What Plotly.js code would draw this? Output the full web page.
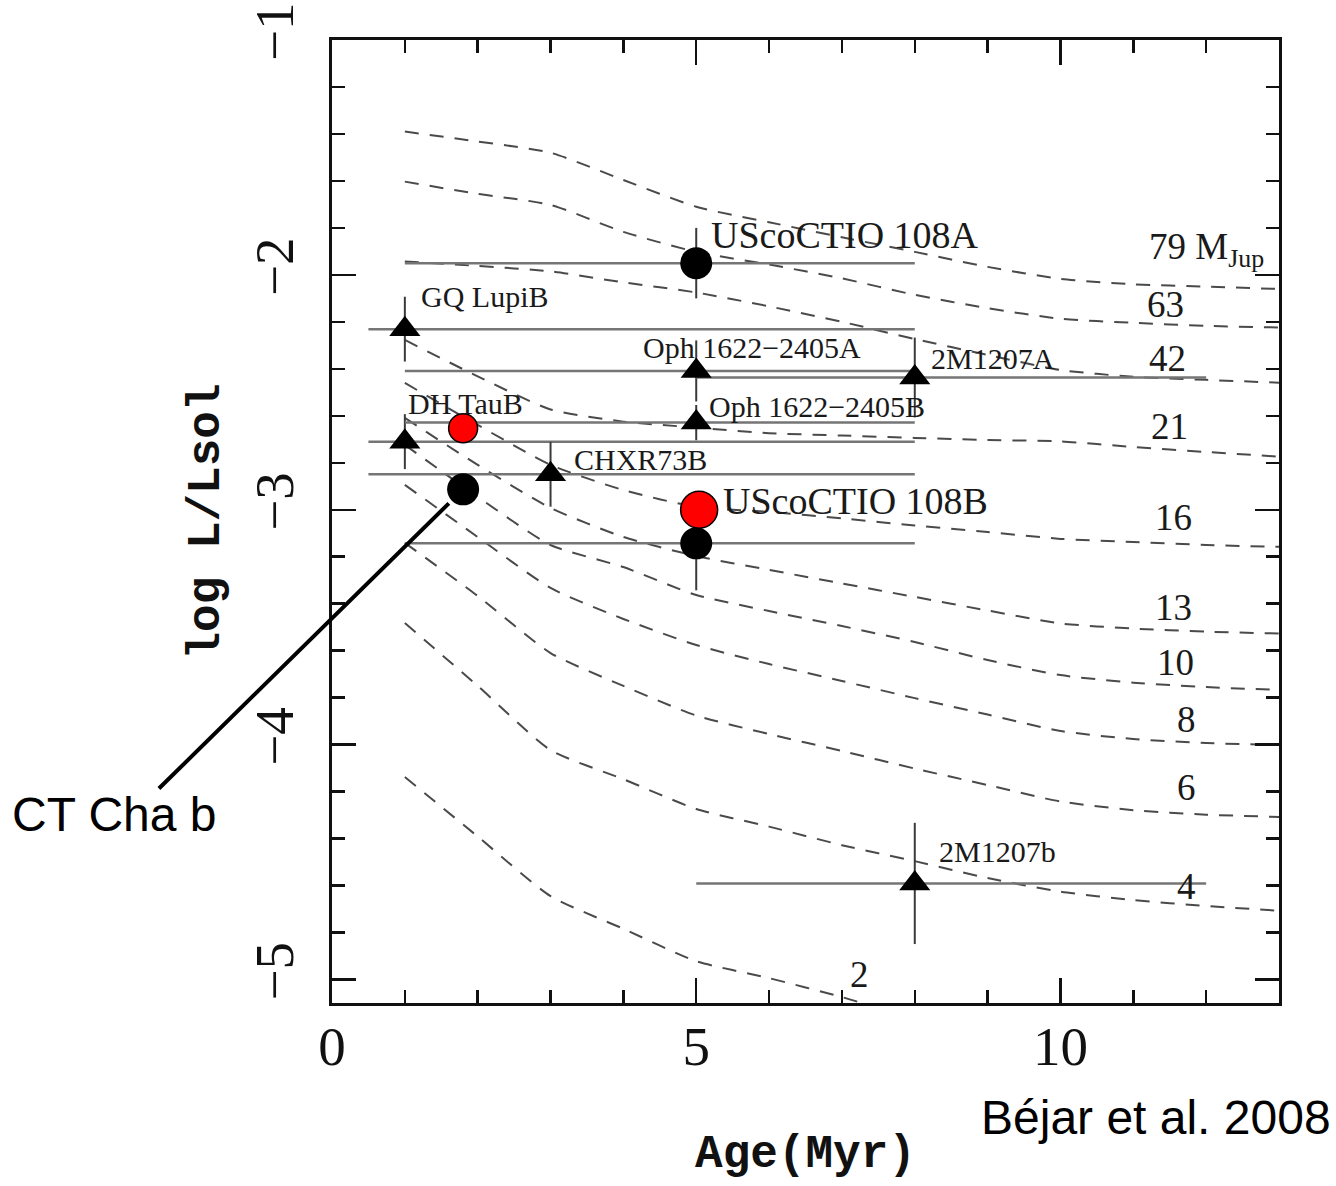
<!DOCTYPE html>
<html><head><meta charset="utf-8">
<script src="https://cdn.plot.ly/plotly-3.0.1.min.js"></script>
<style>html,body{margin:0;padding:0;background:#fff}#chart{width:1336px;height:1186px}</style>
</head><body><div id="chart"></div>
<script>
// ---- evolutionary tracks: log L/Lsol vs age (Myr) ----
const ages = [1,2,3,4,5,6,7,8,9,10,11,12,13];
const trackMass = ['79 M<sub>Jup</sub>','63','42','21','16','13','10','8','6','4','2'];
const logL79 = [-1.390,-1.432,-1.480,-1.596,-1.710,-1.776,-1.840,-1.902,-1.966,-2.017,-2.040,-2.050,-2.060];
const logL63 = [-1.603,-1.655,-1.702,-1.817,-1.902,-1.956,-2.015,-2.085,-2.142,-2.187,-2.204,-2.217,-2.224];
const logL42 = [-1.943,-1.962,-1.985,-2.032,-2.075,-2.134,-2.200,-2.273,-2.341,-2.405,-2.434,-2.447,-2.459];
const logL21 = [-2.277,-2.432,-2.573,-2.625,-2.650,-2.674,-2.684,-2.694,-2.703,-2.709,-2.733,-2.754,-2.774];
const logL16 = [-2.460,-2.639,-2.809,-2.916,-2.988,-3.009,-3.037,-3.067,-3.095,-3.124,-3.137,-3.150,-3.158];
const logL13 = [-2.609,-2.809,-2.992,-3.116,-3.197,-3.256,-3.314,-3.371,-3.429,-3.484,-3.506,-3.519,-3.527];
const logL10 = [-2.724,-2.945,-3.150,-3.244,-3.363,-3.431,-3.495,-3.563,-3.640,-3.704,-3.736,-3.755,-3.767];
const logL8  = [-2.894,-3.116,-3.333,-3.465,-3.576,-3.657,-3.729,-3.802,-3.872,-3.942,-3.976,-3.993,-4.002];
const logL6  = [-3.141,-3.367,-3.610,-3.750,-3.876,-3.955,-4.027,-4.102,-4.172,-4.242,-4.279,-4.298,-4.308];
const logL4  = [-3.482,-3.750,-4.023,-4.147,-4.274,-4.349,-4.428,-4.496,-4.568,-4.626,-4.662,-4.687,-4.707];
const logL2  = [-4.138,-4.391,-4.645,-4.784,-4.922,-4.994,-5.075,-5.169];

// ---- objects (triangles) ----
const triNames = ['GQ LupiB','DH TauB','CHXR73B','Oph 1622\u22122405A','Oph 1622\u22122405B','2M1207A','2M1207b'];
const triAge = [1,1,3,5,5,8,8];
const triLogL = [-2.231,-2.710,-2.849,-2.409,-2.629,-2.437,-4.591];
const triAgeMinus = [0.5,0.5,2.5,4,4,3,3];
const triAgePlus = [7,7,5,3,3,4,4];
const triLogLErr = [0.138,0.117,0.138,0.13,0.075,0.17,0.258];

// ---- objects (black circles) ----
const dotNames = ['UScoCTIO 108A','UScoCTIO 108B','CT Cha b'];
const dotAge = [5,5,1.8];
const dotLogL = [-1.950,-3.143,-2.913];
const dotAgeMinus = [4,4,0];
const dotAgePlus = [3,3,0];
const dotLogLErr = [0.15,0.2,0];

// ---- new values (red circles) ----
const newNames = ['CT Cha b','UScoCTIO 108B'];
const newAge = [1.8,5.04];
const newLogL = [-2.653,-3.0];

const tracks = [logL79,logL63,logL42,logL21,logL16,logL13,logL10,logL8,logL6,logL4,logL2];

const traces = [];
tracks.forEach((t,i)=>{
  traces.push({x: ages.slice(0,t.length), y: t, mode:'lines', type:'scatter', name: trackMass[i],
    line:{color:'#4a4a4a', width:2, dash:'14px,11px', shape:'spline', smoothing:0.6}, hoverinfo:'skip'});
});
traces.push({x: triAge, y: triLogL, mode:'markers', type:'scatter', name:'tri', text: triNames,
  marker:{symbol:'triangle-up', size:27, color:'#000', opacity:1},
  error_x:{type:'data', symmetric:false, array:triAgePlus, arrayminus:triAgeMinus, color:'#757575', thickness:2.5, width:0},
  error_y:{type:'data', array:triLogLErr, color:'#3a3a3a', thickness:2, width:0}});
traces.push({x: dotAge, y: dotLogL, mode:'markers', type:'scatter', name:'dot', text: dotNames,
  marker:{symbol:'circle', size:32, color:'#000', opacity:1},
  error_x:{type:'data', symmetric:false, array:dotAgePlus, arrayminus:dotAgeMinus, color:'#757575', thickness:2.5, width:0},
  error_y:{type:'data', array:dotLogLErr, color:'#3a3a3a', thickness:2, width:0}});
traces.push({x: newAge, y: newLogL, mode:'markers', type:'scatter', name:'new', text: newNames, opacity:1,
  marker:{symbol:'circle', size:[29,37], color:'rgb(255,0,0)', opacity:1, line:{color:'#000', width:1.5}}});

const serif = 'Liberation Serif, Times New Roman, serif';
const mono = 'Liberation Mono, DejaVu Sans Mono, monospace';
const ann = [];
// object labels, offset in pixels from each point
const triShift = [[14.5,32.3],[1.5,37.7],[21.6,14.4],[-55.7,23],[11,15.7],[14,18.7],[22.6,32.3]];
triNames.forEach((n,i)=>{
  ann.push({x:triAge[i], y:triLogL[i], text:n, showarrow:false, xanchor:'left', yanchor:'middle',
    xshift:triShift[i][0], yshift:triShift[i][1], font:{family:serif, size:30, color:'#1a1a1a'}});
});
ann.push({x:dotAge[0], y:dotLogL[0], text:dotNames[0], showarrow:false, xanchor:'left', yanchor:'middle',
  xshift:12.3, yshift:27.8, font:{family:serif, size:38, color:'#1a1a1a'}});
ann.push({x:newAge[1], y:newLogL[1], text:newNames[1], showarrow:false, xanchor:'left', yanchor:'middle',
  xshift:21.4, yshift:8.8, font:{family:serif, size:38, color:'#1a1a1a'}});
// mass labels of the tracks
const massPos = [[11.186,-1.894,'left'],[11.446,-2.128],[11.475,-2.358],[11.49,-2.645],[11.556,-3.035],
  [11.556,-3.415],[11.584,-3.650],[11.735,-3.893],[11.735,-4.183],[11.735,-4.604],[7.245,-4.979]];
trackMass.forEach((m,i)=>{
  ann.push({x:massPos[i][0], y:massPos[i][1], text:m, showarrow:false, xanchor:massPos[i][2]||'center',
    yanchor:'middle', font:{family:serif, size:37, color:'#1a1a1a'}});
});
// CT Cha b pointer
ann.push({x:dotAge[2], y:dotLogL[2], text:'', showarrow:true, arrowhead:0, arrowwidth:4, arrowcolor:'#000',
  ax:-305.7, ay:300.7, standoff:20});
ann.push({xref:'paper', yref:'paper', x:-0.340, y:0.1955, text:'CT Cha b', showarrow:false,
  xanchor:'left', yanchor:'middle', font:{family:'Liberation Sans, Arial, sans-serif', size:48, color:'#000'}});
ann.push({xref:'paper', yref:'paper', x:0.683, y:-0.119, text:'B\u00e9jar et al. 2008', showarrow:false,
  xanchor:'left', yanchor:'middle', font:{family:'Liberation Sans, Arial, sans-serif', size:48, color:'#000'}});

const axisCommon = {
  showgrid:false, zeroline:false, showline:true, linewidth:3, linecolor:'#111', mirror:'allticks',
  ticks:'inside', tickwidth:2.5, tickcolor:'#111',
  tickfont:{family:serif, size:55, color:'#111'}
};
const layout = {
  width:1336, height:1186, showlegend:false,
  paper_bgcolor:'#fff', plot_bgcolor:'#fff',
  margin:{l:332, r:57, t:40, b:183},
  xaxis: Object.assign({}, axisCommon, {range:[0,13], tick0:0, dtick:5, ticklen:25,
    minor:{dtick:1, ticklen:13, tickwidth:2.5, tickcolor:'#111', ticks:'inside', showgrid:false},
    ticklabelstandoff:-7,
    title:{text:'Age(Myr)', font:{family:mono, size:46, color:'#111', weight:'bold'}, standoff:59}}),
  yaxis: Object.assign({}, axisCommon, {range:[-5.1,-1], tick0:0, dtick:1, ticklen:24, tickangle:-90,
    minor:{dtick:0.2, ticklen:13, tickwidth:2.5, tickcolor:'#111', ticks:'inside', showgrid:false},
    ticklabelstandoff:14,
    title:{text:'log L/Lsol', font:{family:mono, size:46, color:'#111', weight:'bold'}, standoff:10}}),
  annotations: ann
};
Plotly.newPlot('chart', traces, layout, {staticPlot:true, displayModeBar:false});
</script></body></html>
